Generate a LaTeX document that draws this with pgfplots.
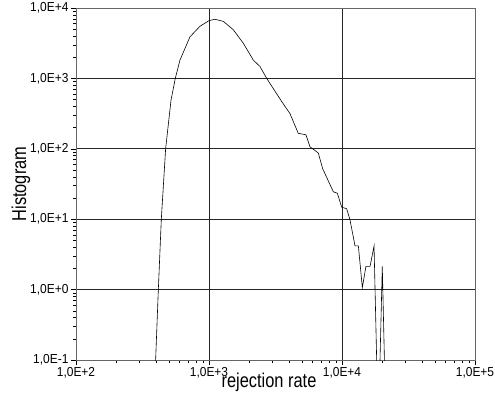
\documentclass[border=0pt]{standalone}
\usepackage{fontspec}
\setmainfont{Liberation Sans}
\newfontfamily\labfont{Liberation Sans}[FakeStretch=0.82]
\newfontfamily\tickfont{Liberation Sans}[FakeStretch=0.92]
\usepackage{pgfplots}
\pgfplotsset{compat=1.18}
\begin{document}
\begin{tikzpicture}
\useasboundingbox (-76pt,-36pt) rectangle (419pt,360pt);
\begin{axis}[
  at={(0,0)}, anchor=south west,
  scale only axis, width=399pt, height=352pt,
  xmode=log, ymode=log,
  xmin=100, xmax=100000, ymin=0.1, ymax=10000,
  xtick={100,1000,10000,100000},
  xticklabels={{1,0E+2},{1,0E+3},{1,0E+4},{1,0E+5}},
  ytick={0.1,1,10,100,1000,10000},
  yticklabels={{1,0E-1},{1,0E+0},{1,0E+1},{1,0E+2},{1,0E+3},{1,0E+4}},
  minor xtick={}, minor ytick={},
  xtick pos=bottom, ytick pos=left,
  tick align=outside, major tick length=5pt,
  tick style={black, line width=0.5pt},
  grid=major, major grid style={black!85, line width=0.6pt},
  axis line style={black!60, line width=0.6pt},
  every tick label/.append style={font=\fontsize{13}{14}\tickfont},
  xticklabel style={yshift=1pt},
  yticklabel style={xshift=1pt},
  xlabel={rejection rate}, ylabel={Histogram},
  label style={font=\labfont\fontsize{20}{22}\selectfont},
  xlabel style={at={(axis description cs:0.4837,-0.0795)}, anchor=base},
  ylabel style={at={(axis description cs:-0.1253,0.5)}, anchor=base},
]
\addplot[black, line width=0.6pt] coordinates {
(389,0.05) (397,0.1) (416,1) (438,10) (472,100) (518,490) (558,1000)
(605,1820) (719,3890) (855,5500) (1000,6610) (1109,6920) (1282,6460)
(1524,4900) (1811,3160) (2153,1820) (2415,1480) (2716,1000) (3524,468)
(4064,316) (4688,166) (5358,158) (5741,107) (6637,87) (7161,52)
(8610,24.5) (9226,23.4) (9954,14.8) (10839,14.1) (11482,9.8)
(12531,4.17) (13274,4.17) (14223,1.07) (15136,2.14) (16255,2.14)
(17418,4.17) (18750,0.01) (20091,2.14) (21429,0.01)
};
\end{axis}
\end{tikzpicture}
\end{document}
